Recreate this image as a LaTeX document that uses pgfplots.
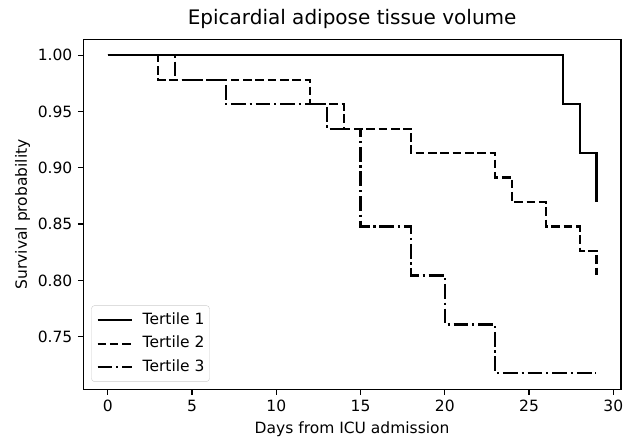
\documentclass[border=0pt]{standalone}
\usepackage{fontspec}
\setmainfont{DejaVu Sans}
\usepackage{pgfplots}
\pgfplotsset{compat=1.18}
\begin{document}
\begin{tikzpicture}
\begin{axis}[
  name=ax,
  scale only axis,
  width=537.6bp, height=350bp,
  xmin=-1.45, xmax=30.45,
  ymin=0.70326, ymax=1.01413,
  xtick={0,5,10,15,20,25,30},
  ytick={0.75,0.80,0.85,0.90,0.95,1.00},
  yticklabel style={/pgf/number format/fixed, /pgf/number format/fixed zerofill, /pgf/number format/precision=2},
  /pgf/number format/assume math mode=true,
  tick align=outside,
  xtick pos=left, ytick pos=left,
  major tick length=5.4bp,
  tick style={line width=1.24bp, black},
  axis line style={line width=1.24bp},
  every tick label/.append style={font=\fontsize{15.5bp}{18bp}\selectfont, inner sep=0pt},
  xticklabel style={yshift=-5.4bp},
  yticklabel style={xshift=-5.4bp},
  title={Epicardial adipose tissue volume},
  title style={font=\fontsize{20bp}{24bp}\selectfont, inner sep=0pt, anchor=base, at={(axis description cs:0.5,1)}, yshift=9.3bp},
  xlabel={Days from ICU admission},
  ylabel={Survival probability},
  label style={font=\fontsize{15.5bp}{18bp}\selectfont},
  xlabel style={inner sep=0pt, at={(axis description cs:0.5,-0.12486)}, anchor=base},
  ylabel style={inner sep=0pt, at={(axis description cs:-0.10473,0.5)}, anchor=base},
  legend style={at={(0,0)}, anchor=south west, xshift=8bp, yshift=7.5bp, draw=black!20, rounded corners=3bp, font=\fontsize{15.5bp}{18bp}\selectfont, row sep=8.5bp, inner xsep=5bp, inner ysep=7bp,
    nodes={inner sep=0pt, text height=11.5bp, text depth=3.5bp}},
  legend cell align=left,
  legend image code/.code={\draw[#1] (0bp,0bp) -- (34bp,0bp);},
  legend style={column sep=0bp},
]
\addplot[const plot mark left, black, line width=2.2bp] coordinates {
(0,1) (27,0.95652) (28,0.91304) (29,0.86957)
};
\addlegendentry{\hspace{10bp}Tertile 1}
\addplot[const plot mark left, black, line width=2.2bp, dash pattern=on 8.6bp off 3.7bp] coordinates {
(0,1) (3,0.97826) (12,0.95652) (14,0.93478) (18,0.91304) (23,0.89130) (24,0.86957) (26,0.84783) (28,0.82609) (29,0.80435)
};
\addlegendentry{\hspace{10bp}Tertile 2}
\addplot[const plot mark left, black, line width=2.2bp, dash pattern=on 14.9bp off 3.7bp on 2.3bp off 3.7bp] coordinates {
(0,1) (4,0.97826) (7,0.95652) (13,0.93478) (15,0.84783) (18,0.80435) (20,0.76087) (23,0.71739) (29,0.71739)
};
\addlegendentry{\hspace{10bp}Tertile 3}
\end{axis}
\path (ax.south west) ++(-83.3bp,-48.7bp) coordinate (bbA);
\path (ax.north east) ++(11.1bp,39.3bp) coordinate (bbB);
\path (bbA) rectangle (bbB);
\end{tikzpicture}
\end{document}
